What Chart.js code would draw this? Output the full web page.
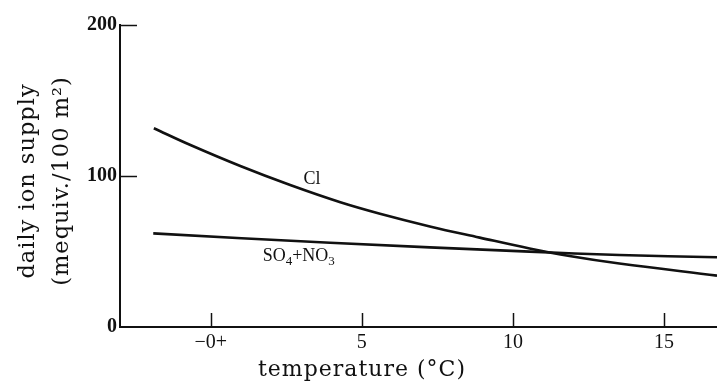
<!DOCTYPE html>
<html>
<head>
<meta charset="utf-8">
<script src="https://cdn.jsdelivr.net/npm/chart.js@4.4.1/dist/chart.umd.min.js"></script>
<style>
html,body{margin:0;padding:0;background:#fff;}
#wrap{width:717px;height:384px;position:relative;}
</style>
</head>
<body>
<div id="wrap"><canvas id="c" width="717" height="384"></canvas></div>
<script>
// ---- data ----
const clTemp   = [-1.88, -0.67, 0.98, 2.63, 4.29, 5.6, 7.25, 8.9, 10.55, 11.87, 13.52, 16.75];
const clSupply = [131.6, 120.5, 106.6, 94.0, 82.6, 75.0, 66.6, 59.2, 52.0, 47.0, 42.0, 34.0];
const snTemp   = [-1.9, 3.95, 10.55, 13.52, 16.75];
const snSupply = [62.0, 55.8, 49.9, 47.7, 46.2];
const xTickValues = [0, 5, 10, 15];
const xTickLabels = ['\u22120+', '5', '10', '15'];
const yTickValues = [0, 100, 200];
const yTickLabels = ['0', '100', '200'];
const xTitle = 'temperature (\u00B0C)';
const yTitle = ['daily ion supply', '(mequiv./100 m\u00B2)'];
const seriesLabels = {cl: 'Cl', sn: ['SO', '4', '+NO', '3']};

const toPts = (xs, ys) => xs.map((x, i) => ({x: x, y: ys[i]}));

const decor = {
  id: 'decor',
  afterDraw(chart) {
    const ctx = chart.ctx, xs = chart.scales.x, ys = chart.scales.y, a = chart.chartArea;
    ctx.save();
    ctx.strokeStyle = '#111';
    ctx.lineWidth = 1.5;
    // inward ticks
    xTickValues.forEach(v => {
      const px = Math.round(xs.getPixelForValue(v)) + 0.5;
      ctx.beginPath(); ctx.moveTo(px, a.bottom); ctx.lineTo(px, a.bottom - 14); ctx.stroke();
    });
    yTickValues.forEach(v => {
      if (v === 0) return;
      const py = Math.round(ys.getPixelForValue(v)) + 0.5;
      ctx.beginPath(); ctx.moveTo(a.left, py); ctx.lineTo(a.left + 17, py); ctx.stroke();
    });
    ctx.fillStyle = '#111';
    // series labels
    ctx.font = '18px "Liberation Serif"';
    ctx.textAlign = 'center'; ctx.textBaseline = 'alphabetic';
    ctx.fillText(seriesLabels.cl, xs.getPixelForValue(3.35), ys.getPixelForValue(94.7));
    // SO4+NO3 with subscripts
    let x0 = xs.getPixelForValue(1.72), yb = ys.getPixelForValue(43.5);
    ctx.textAlign = 'left';
    seriesLabels.sn.forEach((p, i) => {
      const sub = (i % 2 === 1);
      ctx.font = sub ? '13px "Liberation Serif"' : '18px "Liberation Serif"';
      ctx.fillText(p, x0, sub ? yb + 4 : yb);
      x0 += ctx.measureText(p).width;
    });
    // axis titles
    ctx.letterSpacing = '1px';
    ctx.font = '22px "DejaVu Serif"';
    ctx.textAlign = 'center'; ctx.textBaseline = 'middle';
    ctx.fillText(xTitle, 362, 370);
    ctx.font = '22.5px "DejaVu Serif"';
    [[28, yTitle[0]], [62, yTitle[1]]].forEach(([cx, t]) => {
      ctx.save();
      ctx.translate(cx, 181); ctx.rotate(-Math.PI / 2);
      ctx.fillText(t, 0, 0);
      ctx.restore();
    });
    ctx.restore();
  }
};

new Chart(document.getElementById('c'), {
  type: 'scatter',
  data: {
    datasets: [
      {data: toPts(clTemp, clSupply), showLine: true, borderColor: '#111', borderWidth: 2.6,
       pointRadius: 0, tension: 0.4, fill: false},
      {data: toPts(snTemp, snSupply), showLine: true, borderColor: '#111', borderWidth: 2.6,
       pointRadius: 0, tension: 0.4, fill: false}
    ]
  },
  options: {
    responsive: false,
    animation: false,
    devicePixelRatio: 1,
    layout: {padding: {top: 25, right: 0, left: 0, bottom: 0}},
    plugins: {legend: {display: false}, tooltip: {enabled: false}},
    scales: {
      x: {
        type: 'linear', min: -3, max: 16.75,
        afterFit: s => { s.height = 57; },
        afterBuildTicks: s => { s.ticks = xTickValues.map(v => ({value: v})); },
        grid: {display: false, drawTicks: false},
        border: {display: true, color: '#111', width: 2},
        ticks: {
          color: '#111', padding: 4,
          font: {family: 'Liberation Serif', size: 20},
          callback: (v) => xTickLabels[xTickValues.indexOf(v)]
        }
      },
      y: {
        type: 'linear', min: 0, max: 200,
        afterFit: s => { s.width = 120; },
        afterBuildTicks: s => { s.ticks = yTickValues.map(v => ({value: v})); },
        grid: {display: false, drawTicks: false},
        border: {display: true, color: '#111', width: 2},
        ticks: {
          color: '#111', padding: 3,
          font: {family: 'Liberation Serif', size: 20, weight: 'bold'},
          callback: (v) => yTickLabels[yTickValues.indexOf(v)]
        }
      }
    }
  },
  plugins: [decor]
});
</script>
</body>
</html>
